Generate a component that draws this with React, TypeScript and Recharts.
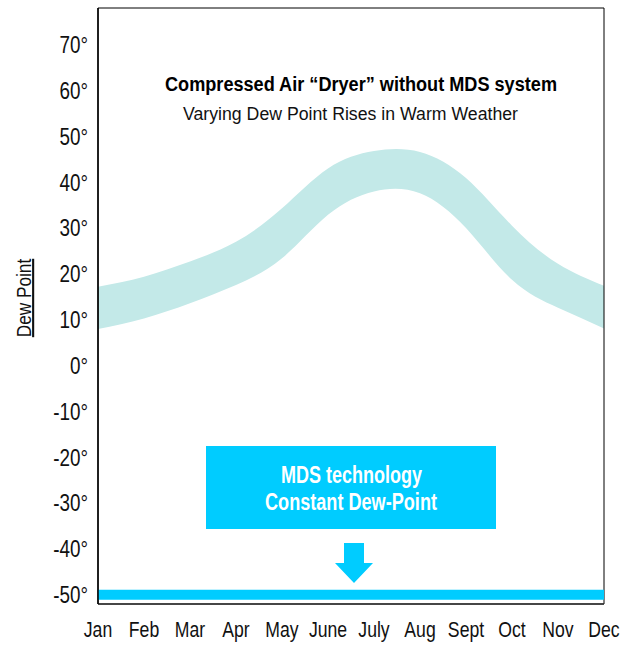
import React from 'react';
import { ComposedChart, Area, Line, XAxis, YAxis, ReferenceArea } from 'recharts';

const months = ['Jan', 'Feb', 'Mar', 'Apr', 'May', 'June', 'July', 'Aug', 'Sept', 'Oct', 'Nov', 'Dec'];
const withoutMdsHigh = [17.2, 19.4, 22.7, 27.0, 34.3, 43.0, 46.8, 46.6, 40.9, 30.5, 22.2, 17.4];
const withoutMdsLow = [8.0, 10.3, 13.6, 17.6, 23.4, 32.9, 38.0, 37.6, 30.0, 18.7, 12.6, 8.1];
const mdsDewPoint = [-50, -50, -50, -50, -50, -50, -50, -50, -50, -50, -50, -50];
const yTicks = [-50, -40, -30, -20, -10, 0, 10, 20, 30, 40, 50, 60, 70];

const title = 'Compressed Air \u201CDryer\u201D without MDS system';
const subtitle = 'Varying Dew Point Rises in Warm Weather';
const boxLine1 = 'MDS technology';
const boxLine2 = 'Constant Dew-Point';
const yLabel = 'Dew Point';

const data = months.map((m, i) => ({
  month: m,
  band: [withoutMdsLow[i], withoutMdsHigh[i]],
  mds: mdsDewPoint[i],
}));

const FONT = "'Liberation Sans', Arial, sans-serif";
const NARROW = 0.82;
const BAND = '#c3e9e8';
const BLUE = '#00ccff';

const YTick = (props: any) => {
  const { x, y, payload } = props;
  return (
    <text
      transform={`translate(${x},${y}) scale(${NARROW},1)`}
      x={0}
      y={0}
      dy="0.36em"
      textAnchor="end"
      fontFamily={FONT}
      fontSize={23}
      fill="#111"
    >
      {`${payload.value}\u00B0`}
    </text>
  );
};

const XTick = (props: any) => {
  const { x, y, payload } = props;
  return (
    <text
      transform={`translate(${x},${y}) scale(${NARROW},1)`}
      x={0}
      y={0}
      dy="0.71em"
      textAnchor="middle"
      fontFamily={FONT}
      fontSize={21.5}
      fill="#111"
    >
      {payload.value}
    </text>
  );
};

export default function App() {
  return (
    <div style={{ position: 'absolute', left: 0, top: 0, width: 632, height: 645, background: '#fff' }}>
      <ComposedChart width={632} height={645} data={data} margin={{ top: 8, right: 28, bottom: 0, left: 0 }}>
        <XAxis
          dataKey="month"
          scale="point"
          padding={{ left: 0, right: 0 }}
          height={41}
          tickLine={false}
          tickSize={0}
          tickMargin={18}
          interval={0}
          axisLine={{ stroke: '#333', strokeWidth: 1.5 }}
          tick={<XTick />}
        />
        <YAxis
          type="number"
          domain={[-52, 78]}
          ticks={yTicks}
          interval={0}
          width={98}
          tickLine={false}
          tickSize={0}
          tickMargin={10}
          allowDataOverflow
          axisLine={{ stroke: '#000', strokeWidth: 1.5 }}
          tick={<YTick />}
        />
        <Area
          dataKey="band"
          type="natural"
          fill={BAND}
          fillOpacity={1}
          stroke="none"
          isAnimationActive={false}
          dot={false}
          activeDot={false}
        />
        <Line
          dataKey="mds"
          type="linear"
          stroke={BLUE}
          strokeWidth={10}
          dot={false}
          activeDot={false}
          isAnimationActive={false}
        />
        <ReferenceArea
          x1="Jan"
          x2="Dec"
          y1={-52}
          y2={78}
          fill="none"
          stroke="#000"
          strokeWidth={1}
          ifOverflow="visible"
        />
      </ComposedChart>
      <svg
        width={632}
        height={645}
        style={{ position: 'absolute', left: 0, top: 0, pointerEvents: 'none' }}
      >
        <text x={165} y={91} fontFamily={FONT} fontWeight="bold" fontSize={20} fill="#000" textLength={392} lengthAdjust="spacingAndGlyphs">
          {title}
        </text>
        <text x={183} y={120} fontFamily={FONT} fontSize={17.5} fill="#111" textLength={335} lengthAdjust="spacingAndGlyphs">
          {subtitle}
        </text>
        <rect x={206} y={446} width={290} height={83} fill={BLUE} />
        <text x={281} y={483} fontFamily={FONT} fontWeight="bold" fontSize={23} fill="#fff" textLength={141} lengthAdjust="spacingAndGlyphs">
          {boxLine1}
        </text>
        <text x={265} y={510} fontFamily={FONT} fontWeight="bold" fontSize={23} fill="#fff" textLength={172} lengthAdjust="spacingAndGlyphs">
          {boxLine2}
        </text>
        <path d="M344,543 L364,543 L364,563 L373,563 L354,583 L335,563 L344,563 Z" fill={BLUE} />
        <text
          x={0}
          y={0}
          transform={`translate(31,298) rotate(-90) scale(${NARROW},1)`}
          textAnchor="middle"
          fontFamily={FONT}
          fontSize={21}
          fill="#111"
          textDecoration="underline"
        >
          {yLabel}
        </text>
      </svg>
    </div>
  );
}
